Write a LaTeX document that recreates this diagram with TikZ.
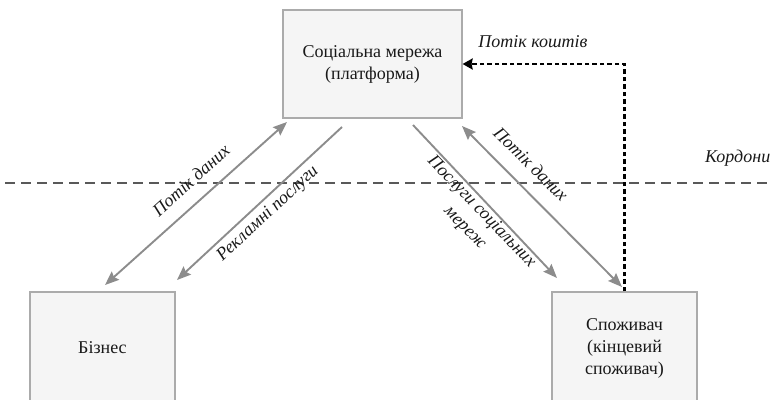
\documentclass[tikz,border=0pt]{standalone}
\usepackage{fontspec}
\setmainfont{Liberation Serif}
\usetikzlibrary{arrows.meta}
\begin{document}
\begin{tikzpicture}[x=1pt,y=-1pt,
  box/.style={draw=black!33, line width=1.2pt, fill=black!4, minimum width=179pt, inner sep=0pt,
    align=center, font=\fontsize{18}{22}\selectfont, text=black!90},
  flow/.style={draw=black!45, line width=1.9pt, -{Stealth[length=14pt,width=11pt,inset=2pt]}},
  biflow/.style={flow, {Stealth[length=14pt,width=11pt,inset=2pt]}-{Stealth[length=14pt,width=11pt,inset=2pt]}},
  money/.style={draw=black, line width=2.8pt, dash pattern=on 4.5pt off 3pt, -{Stealth[length=10pt,width=11pt,inset=1pt]}},
  border/.style={draw=black!65, line width=1.1pt, dash pattern=on 10pt off 6pt},
  lbl/.style={font=\fontsize{18}{23}\selectfont\itshape, text=black!90, align=center, inner sep=0pt}]
\clip (0,0) rectangle (770,399);
% boxes
\node[box, minimum height=108pt] (soc) at (372.5,64) {Соціальна мережа\\(платформа)};
\node[box, minimum width=145pt, minimum height=112pt] (biz) at (102.5,348) {Бізнес};
\node[box, minimum width=145pt, minimum height=112pt] (cons) at (624.5,348) {Споживач\\(кінцевий\\споживач)};
% border line
\coordinate (bl) at (5,183);
\coordinate (br) at (770,183);
\draw[border] (bl) -- (br);
\node[lbl, anchor=west] (kord) at (705,158) {Кордони};
% arrow endpoints
\coordinate (a1s) at (287,122); \coordinate (a1e) at (105,285);
\coordinate (a2s) at (342,127); \coordinate (a2e) at (177,280);
\coordinate (a3s) at (413,125); \coordinate (a3e) at (557,278);
\coordinate (a4s) at (462,126); \coordinate (a4e) at (622,287);
\draw[biflow] (a1s) -- (a1e);
\draw[flow] (a2s) -- (a2e);
\draw[flow] (a3s) -- (a3e);
\draw[biflow] (a4s) -- (a4e);
% money flow
\draw[money] (cons.north) |- (soc.east);
% labels
\node[lbl, rotate=42] (l1) at (191,180) {Потік даних};
\node[lbl, rotate=43] (l2) at (268,214) {Рекламні послуги};
\node[lbl, rotate=-46] (l3) at (473,220) {Послуги соціальних\\мереж};
\node[lbl, rotate=-45] (l4) at (531,164) {Потік даних};
\node[lbl] (l5) at (533,42) {Потік коштів};
\end{tikzpicture}
\end{document}
